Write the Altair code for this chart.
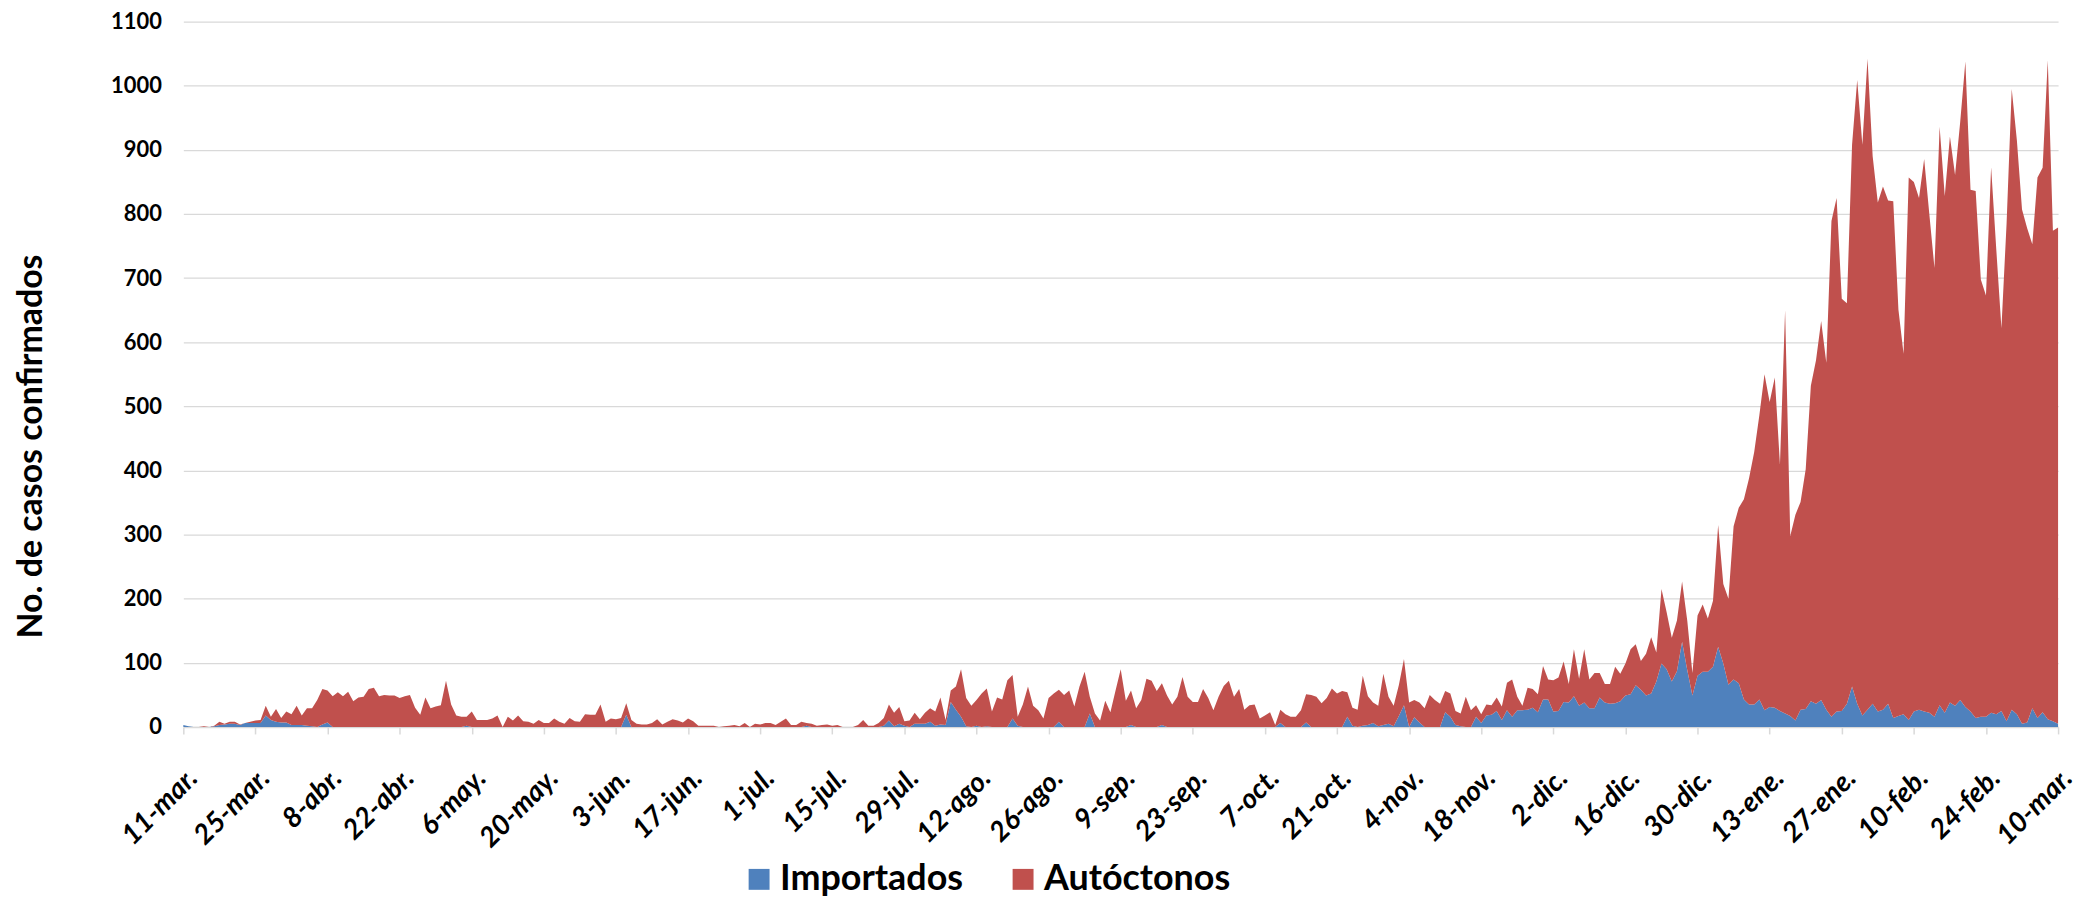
import altair as alt
import pandas as pd

# Etiquetas del eje X (cada 14 días desde el 11-mar)
etiquetas = ['11-mar.', '25-mar.', '8-abr.', '22-abr.', '6-may.', '20-may.', '3-jun.',
             '17-jun.', '1-jul.', '15-jul.', '29-jul.', '12-ago.', '26-ago.', '9-sep.',
             '23-sep.', '7-oct.', '21-oct.', '4-nov.', '18-nov.', '2-dic.', '16-dic.',
             '30-dic.', '13-ene.', '27-ene.', '10-feb.', '24-feb.', '10-mar.']

# Casos totales diarios (Importados + Autóctonos), por mes
total_mar20 = [3, 1, 0, 0, 1, 0, 2, 8, 5, 8, 8, 4, 6, 8, 10, 11, 33, 16, 28, 14, 24]
total_abr20 = [20, 33, 18, 29, 29, 42, 59, 57, 48, 54, 48, 55, 40, 46, 47, 59, 61, 48, 50, 49,
               49, 45, 48, 50, 30, 19, 46, 29, 32, 34]
total_may20 = [72, 35, 18, 16, 16, 24, 11, 11, 11, 13, 18, 0, 16, 10, 18, 9, 8, 5, 11, 6,
               6, 13, 8, 5, 14, 9, 8, 20, 19, 19, 35]
total_jun20 = [8, 13, 12, 14, 37, 11, 5, 4, 4, 6, 12, 4, 8, 12, 10, 7, 13, 9, 2, 2,
               2, 2, 0, 1, 2, 3, 1, 6, 0, 5]
total_jul20 = [4, 6, 6, 3, 8, 13, 3, 3, 8, 6, 5, 2, 3, 4, 2, 3, 0, 0, 0, 3,
               11, 2, 2, 6, 14, 35, 22, 31, 9, 10, 22]
total_ago20 = [12, 22, 29, 24, 46, 11, 57, 63, 90, 45, 33, 42, 52, 60, 24, 46, 43, 73, 81, 16,
               35, 63, 33, 26, 13, 45, 52, 58, 50, 57, 32]
total_sep20 = [63, 86, 47, 21, 10, 41, 23, 57, 90, 41, 57, 29, 42, 75, 72, 56, 68, 49, 35, 47,
               78, 47, 39, 39, 59, 45, 26, 47, 64, 72]
total_oct20 = [47, 59, 27, 34, 35, 13, 18, 23, 3, 27, 20, 16, 16, 26, 51, 50, 47, 37, 45, 60,
               52, 56, 54, 30, 27, 80, 48, 38, 33, 83, 47]
total_nov20 = [33, 65, 106, 38, 42, 38, 29, 50, 42, 36, 56, 52, 25, 21, 47, 26, 34, 20, 35, 34,
               46, 32, 69, 74, 47, 33, 61, 59, 51, 95]
total_dic20 = [74, 73, 77, 102, 67, 121, 75, 121, 74, 84, 84, 67, 67, 94, 83, 99, 121, 129, 103, 114,
               140, 116, 215, 179, 139, 166, 227, 166, 84, 174, 191]
total_ene21 = [169, 197, 315, 223, 200, 313, 342, 355, 388, 429, 486, 550, 507, 545, 409, 650, 298, 331, 351, 402,
               532, 572, 633, 568, 789, 825, 668, 661, 908, 1009, 908]
total_feb21 = [1042, 890, 818, 843, 821, 820, 651, 582, 857, 850, 825, 886, 800, 716, 936, 828, 921, 861, 944, 1038,
               838, 836, 698, 673, 873, 745, 622, 785]
total_mar21 = [995, 915, 807, 778, 753, 857, 872, 1040, 774, 779]

# Casos importados diarios, por mes
imp_mar20 = [3, 1, 0, 0, 0, 0, 1, 3, 4, 5, 5, 3, 6, 6, 6, 6, 18, 11, 8, 7, 7]
imp_abr20 = [3, 3, 3, 2, 1, 0, 4, 7, 0, 0, 0, 0, 0, 0, 0, 0, 0, 0, 0, 0,
             0, 0, 0, 0, 0, 0, 0, 0, 0, 0]
imp_may20 = [0, 0, 0, 0, 2, 0, 0, 0, 0, 0, 0, 0, 0, 0, 0, 0, 0, 0, 0, 0,
             0, 0, 0, 0, 0, 0, 0, 0, 0, 0, 0]
imp_jun20 = [0, 0, 0, 0, 19, 0, 0, 0, 0, 0, 0, 0, 0, 0, 0, 0, 0, 0, 0, 0,
             0, 0, 0, 0, 0, 0, 0, 0, 0, 0]
imp_jul20 = [0, 0, 0, 0, 0, 0, 0, 0, 0, 2, 0, 0, 0, 0, 0, 0, 0, 0, 0, 0,
             0, 0, 0, 0, 2, 10, 1, 5, 2, 0, 5]
imp_ago20 = [5, 5, 8, 2, 4, 3, 39, 27, 16, 1, 0, 2, 0, 1, 0, 0, 0, 0, 13, 2,
             0, 0, 0, 0, 0, 0, 0, 8, 0, 0, 0]
imp_sep20 = [0, 0, 21, 0, 0, 0, 0, 0, 0, 0, 3, 0, 0, 0, 0, 0, 3, 0, 0, 0,
             0, 0, 0, 0, 0, 0, 0, 0, 0, 0]
imp_oct20 = [0, 0, 0, 0, 0, 0, 0, 0, 0, 6, 0, 0, 0, 0, 7, 0, 0, 0, 0, 0,
             0, 0, 16, 2, 0, 2, 3, 6, 1, 3, 5]
imp_nov20 = [1, 17, 34, 0, 15, 7, 0, 0, 0, 0, 23, 16, 3, 1, 0, 0, 16, 6, 18, 19,
             25, 11, 26, 16, 26, 26, 27, 30, 23, 43]
imp_dic20 = [43, 24, 25, 39, 38, 48, 33, 38, 29, 29, 46, 38, 36, 37, 40, 49, 51, 65, 58, 49,
             52, 71, 99, 90, 71, 87, 133, 89, 49, 80, 86]
imp_ene21 = [86, 94, 125, 99, 66, 74, 68, 43, 35, 35, 43, 26, 31, 30, 25, 21, 17, 10, 27, 28,
             40, 36, 42, 27, 16, 24, 25, 36, 63, 36, 18]
imp_feb21 = [27, 36, 24, 27, 36, 14, 17, 20, 11, 24, 27, 24, 22, 16, 34, 22, 38, 33, 42, 31,
             24, 14, 16, 16, 22, 20, 25, 9]
imp_mar21 = [27, 20, 5, 7, 29, 14, 23, 12, 9, 5]

total = (total_mar20 + total_abr20 + total_may20 + total_jun20 + total_jul20 + total_ago20 +
         total_sep20 + total_oct20 + total_nov20 + total_dic20 + total_ene21 + total_feb21 + total_mar21)
importados = (imp_mar20 + imp_abr20 + imp_may20 + imp_jun20 + imp_jul20 + imp_ago20 +
              imp_sep20 + imp_oct20 + imp_nov20 + imp_dic20 + imp_ene21 + imp_feb21 + imp_mar21)
autoctonos = [max(t - i, 0) for t, i in zip(total, importados)]

rows = []
for d in range(len(total)):
    rows.append({'dia': d, 'serie': 'Importados', 'casos': importados[d], 'orden': 0})
    rows.append({'dia': d, 'serie': 'Autóctonos', 'casos': autoctonos[d], 'orden': 1})
df = pd.DataFrame(rows)

label_expr = "[" + ",".join("'" + e + "'" for e in etiquetas) + "][round(datum.value / 14)]"

FONT = 'Lato'
GRID = '#d9d9d9'

chart = alt.Chart(df).mark_area(interpolate='linear').encode(
    x=alt.X('dia:Q',
            scale=alt.Scale(domain=[0, 364], nice=False, zero=False),
            axis=alt.Axis(values=list(range(0, 365, 14)), labelExpr=label_expr, title=None,
                          labelAngle=315, labelAlign='right', labelBaseline='top',
                          labelFont=FONT, labelFontSize=28, labelFontWeight='bold',
                          labelFontStyle='italic', labelColor='black',
                          labelPadding=30, labelOffset=0, tickSize=7, tickColor=GRID, tickWidth=1.5,
                          domainColor=GRID, domainWidth=1.5, grid=False,
                          labelOverlap=False, labelFlush=False, labelBound=False)),
    y=alt.Y('casos:Q', stack='zero',
            scale=alt.Scale(domain=[0, 1100], nice=False),
            axis=alt.Axis(values=list(range(0, 1101, 100)), format='d',
                          title='No. de casos confirmados',
                          domain=False, ticks=False, tickSize=0,
                          grid=True, gridColor=GRID, gridWidth=1.3,
                          labelFont=FONT, labelFontSize=22, labelFontWeight='bold',
                          labelColor='black', labelPadding=22,
                          titleFont=FONT, titleFontSize=34, titleFontWeight='bold',
                          titleColor='black', titleAngle=270, titleAlign='center',
                          titleBaseline='middle', titleX=-152, titleY=426)),
    color=alt.Color('serie:N',
                    scale=alt.Scale(domain=['Importados', 'Autóctonos'],
                                    range=['#4F81BD', '#C0504D']),
                    legend=alt.Legend(title=None, orient='none', direction='horizontal',
                                      legendX=560, legendY=843, symbolType='square',
                                      symbolSize=441, symbolStrokeWidth=0,
                                      labelFont=FONT, labelFontSize=36, labelFontWeight='bold',
                                      labelColor='black', labelOffset=3, labelLimit=600,
                                      columnPadding=42)),
    order=alt.Order('orden:Q')
).properties(
    width=1882, height=708,
    padding={'left': 176, 'top': 12, 'right': 20, 'bottom': 174},
    autosize=alt.AutoSizeParams(type='none')
).configure_view(stroke=None)

chart.save('out.html', embed_options={'renderer': 'svg', 'actions': False})
